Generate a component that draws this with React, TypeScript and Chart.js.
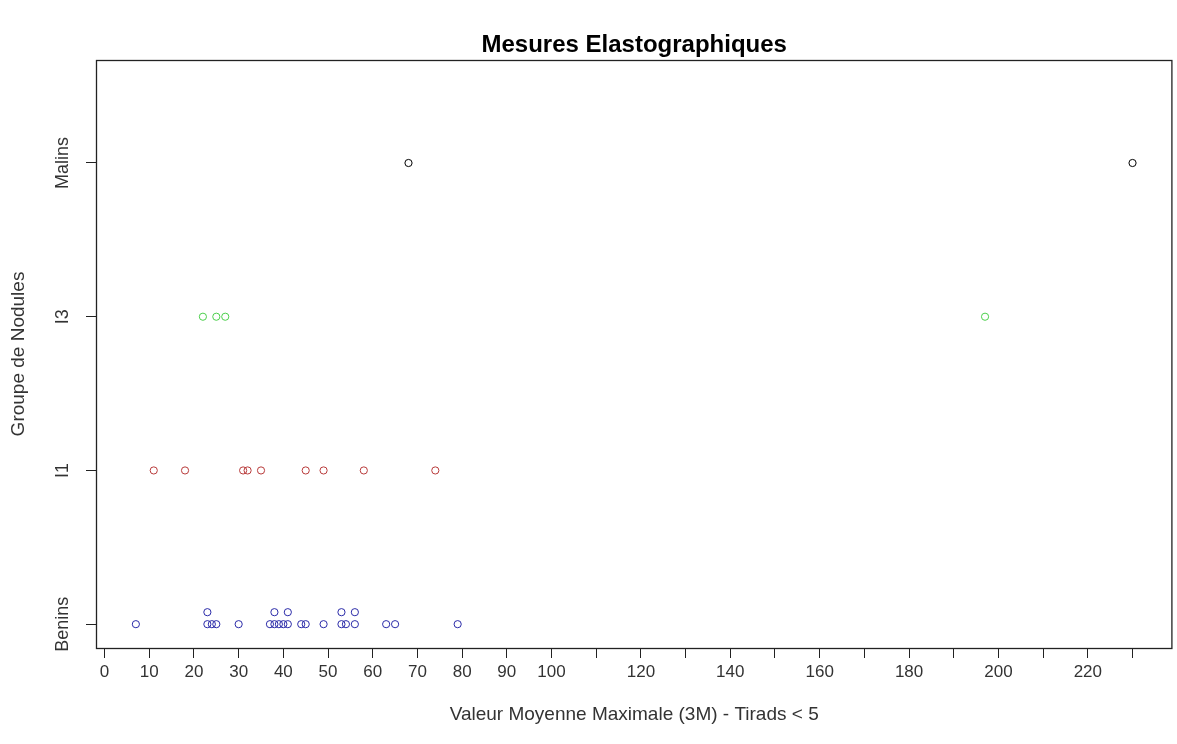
import React, { useEffect, useRef } from "react";
import { Chart, registerables } from "chart.js";

Chart.register(...registerables);

const groups = ["Benins", "I1", "I3", "Malins"];
const beninsValues = [7, 23, 23, 24, 25, 30, 37, 38, 38, 39, 40, 41, 41, 44, 45, 49, 53, 53, 54, 56, 56, 63, 65, 79];
const i1Values = [11, 18, 31, 32, 35, 45, 49, 58, 74];
const i3Values = [22, 25, 27, 197];
const malinsValues = [68, 230];
const groupColors = ["#2a2aa8", "#b83a3a", "#4ccf4c", "#000000"];
const xTicks = [0, 10, 20, 30, 40, 50, 60, 70, 80, 90, 100, 110, 120, 130, 140, 150, 160, 170, 180, 190, 200, 210, 220, 230];
const xLabelled = [0, 10, 20, 30, 40, 50, 60, 70, 80, 90, 100, 120, 140, 160, 180, 200, 220];

const title = "Mesures Elastographiques";
const xTitle = "Valeur Moyenne Maximale (3M) - Tirads < 5";
const yTitle = "Groupe de Nodules";

const STACK = 0.078;
const FONT = '"Liberation Sans", Arial, sans-serif';

function stacked(values: number[], level: number) {
  const seen: Record<number, number> = {};
  return values.map((v) => {
    const k = seen[v] || 0;
    seen[v] = k + 1;
    return { x: v, y: level + k * STACK };
  });
}

export default function App() {
  const ref = useRef<HTMLCanvasElement | null>(null);
  useEffect(() => {
    document.body.style.margin = "0";
    const canvas = ref.current!;
    const all = [beninsValues, i1Values, i3Values, malinsValues];
    const decor = {
      id: "decor",
      afterDraw(chart: any) {
        const { ctx, chartArea } = chart;
        const { left, right, top, bottom } = chartArea;
        ctx.save();
        ctx.strokeStyle = "#222";
        ctx.lineWidth = 1.3;
        ctx.strokeRect(left + 0.5, top + 0.5, right - left - 1, bottom - top);
        ctx.fillStyle = "#000";
        ctx.textAlign = "center";
        ctx.textBaseline = "middle";
        ctx.font = `bold 24px ${FONT}`;
        ctx.fillText(title, (left + right) / 2, 45);
        ctx.fillStyle = "#333";
        ctx.font = `19px ${FONT}`;
        ctx.fillText(xTitle, (left + right) / 2, 715);
        ctx.save();
        ctx.translate(19, (top + bottom) / 2);
        ctx.rotate(-Math.PI / 2);
        ctx.fillText(yTitle, 0, 0);
        ctx.restore();
        const ys = chart.scales.y;
        ctx.font = `18px ${FONT}`;
        groups.forEach((g, i) => {
          const py = ys.getPixelForValue(i + 1);
          ctx.save();
          ctx.translate(63, py);
          ctx.rotate(-Math.PI / 2);
          ctx.fillText(g, 0, 0);
          ctx.restore();
        });
        ctx.restore();
      },
    };
    const chart = new Chart(canvas, {
      type: "scatter",
      data: {
        datasets: groups.map((g, i) => ({
          label: g,
          data: stacked(all[i], i + 1),
          borderColor: groupColors[i],
          backgroundColor: "rgba(0,0,0,0)",
          pointRadius: 3.6,
          pointBorderWidth: 1,
          pointHoverRadius: 3.6,
        })),
      },
      options: {
        animation: false,
        responsive: false,
        events: [],
        layout: { padding: { top: 60, right: 1, left: 0, bottom: 0 } },
        plugins: { legend: { display: false }, tooltip: { enabled: false }, title: { display: false } },
        scales: {
          x: {
            type: "linear",
            min: -1.92,
            max: 238.92,
            afterBuildTicks: (s: any) => {
              s.ticks = xTicks.map((v) => ({ value: v }));
            },
            afterFit: (s: any) => {
              s.height = 96;
            },
            border: { display: false },
            grid: { drawOnChartArea: false, drawTicks: true, tickLength: 10, color: "#222", tickWidth: 1 },
            ticks: {
              autoSkip: false,
              maxRotation: 0,
              minRotation: 0,
              padding: 4,
              color: "#333",
              font: { family: FONT, size: 17 },
              callback: (v: any) => (xLabelled.includes(Number(v)) ? String(v) : ""),
            },
          },
          y: {
            type: "linear",
            min: 0.845,
            max: 4.67,
            afterBuildTicks: (s: any) => {
              s.ticks = groups.map((_, i) => ({ value: i + 1 }));
            },
            afterFit: (s: any) => {
              s.width = 96;
            },
            border: { display: false },
            grid: { drawOnChartArea: false, drawTicks: true, tickLength: 10, color: "#222" },
            ticks: { display: false },
          },
        },
      },
      plugins: [decor],
    });
    return () => chart.destroy();
  }, []);
  return <canvas ref={ref} width={1177} height={744} style={{ display: "block" }} />;
}
